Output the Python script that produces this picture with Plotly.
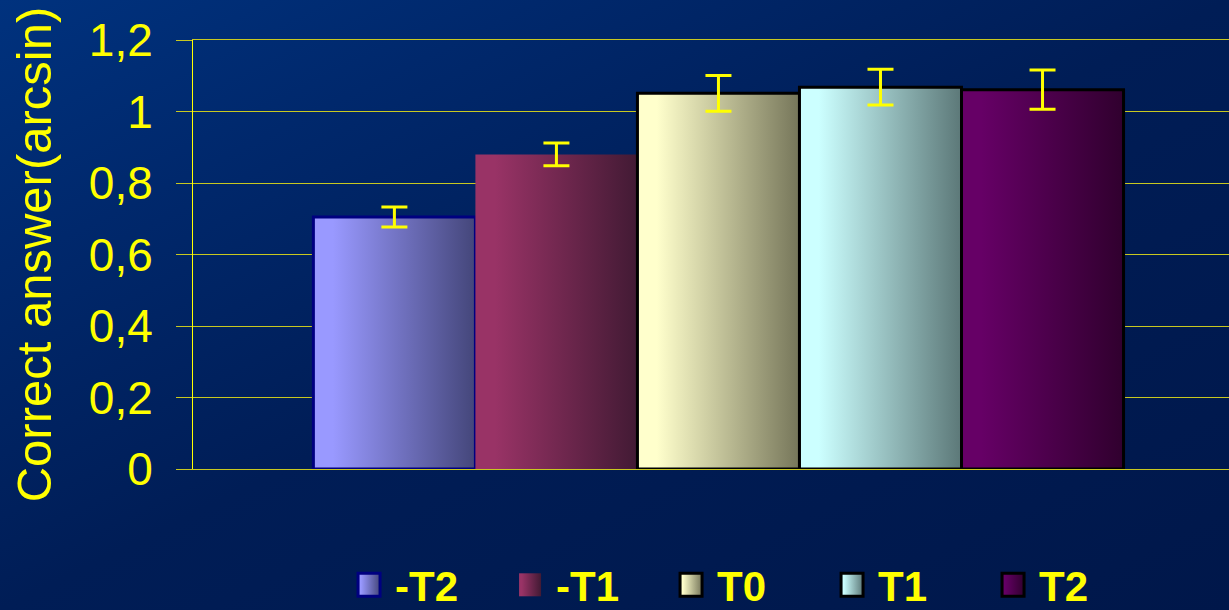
import json
import plotly.graph_objects as go

# Condition labels, means (arcsin-transformed proportion correct) and SEM
conditions = ["-T2", "-T1", "T0", "T1", "T2"]
means = [0.705, 0.880, 1.051, 1.068, 1.061]
errors = [0.028, 0.032, 0.050, 0.050, 0.055]

# Left (light) and right (dark) colours of each bar's horizontal shading
light_colors = ["#9999FF", "#993366", "#FFFFCC", "#CCFFFF", "#660066"]
dark_colors = ["#44467A", "#421A34", "#76765A", "#5C7878", "#30002E"]
outline_colors = ["#000080", "#993366", "#000000", "#000000", "#000000"]
outline_widths = [3, 0, 3, 3, 3]

fig = go.Figure()
for name, m, e, c, lc, lw in zip(conditions, means, errors, light_colors,
                                 outline_colors, outline_widths):
    fig.add_trace(go.Bar(
        name=name,
        x=[0],
        y=[m],
        marker=dict(color=c, line=dict(color=lc, width=lw)),
        error_y=dict(type="data", array=[e], visible=True,
                     color="#FFFF00", thickness=3, width=13),
    ))

yellow = "#FFFF00"
grid_yellow = "#C8C820"
fig.update_layout(
    width=1229,
    height=610,
    margin=dict(l=193, r=0, t=40, b=141),
    paper_bgcolor="#001E58",
    plot_bgcolor="rgba(0,0,0,0)",
    barmode="group",
    bargap=0.218,
    bargroupgap=0,
    font=dict(family="Liberation Sans, Arial, sans-serif", color=yellow),
    xaxis=dict(
        range=[-0.5072, 0.4928],
        showticklabels=False,
        showgrid=False,
        zeroline=False,
        ticks="",
        showline=True,
        mirror=True,
        linecolor=grid_yellow,
        linewidth=1,
        layer="below traces",
    ),
    yaxis=dict(
        range=[0, 1.2],
        tickvals=[0, 0.2, 0.4, 0.6, 0.8, 1.0, 1.2],
        ticktext=["0", "0,2", "0,4", "0,6", "0,8", "1", "1,2"],
        tickfont=dict(size=46, color=yellow),
        ticks="outside",
        ticklen=16,
        tickwidth=1,
        tickcolor=grid_yellow,
        ticklabelstandoff=14,
        showgrid=True,
        gridcolor=grid_yellow,
        gridwidth=1,
        zeroline=False,
        showline=True,
        linecolor=yellow,
        linewidth=1,
        layer="below traces",
        title=dict(text="Correct answer(arcsin)",
                   font=dict(size=49, color=yellow), standoff=21),
    ),
    legend=dict(
        orientation="h",
        xref="container",
        yref="container",
        x=0.2889,
        xanchor="left",
        y=1 - 585 / 610,
        yanchor="middle",
        entrywidthmode="pixels",
        entrywidth=116,
        font=dict(size=42, color=yellow, weight="bold"),
        bgcolor="rgba(0,0,0,0)",
        traceorder="normal",
    ),
    showlegend=True,
)

# Horizontal light-to-dark shading for bars and legend swatches
stops = [[[0, lc], [0.12, lc], [1, dc]] for lc, dc in zip(light_colors, dark_colors)]

post = """
var gd = document.getElementById('{plot_id}');
var NS = 'http://www.w3.org/2000/svg';
var stops = %s;
var svg = gd.querySelector('.main-svg');
svg.style.background = 'linear-gradient(to bottom right, #00327E 0%%, #00286C 22%%, #001D56 50%%, #00174A 100%%)';
var defs = svg.querySelector('defs');
stops.forEach(function (g, i) {
  var lg = document.createElementNS(NS, 'linearGradient');
  lg.setAttribute('id', 'barshade' + i);
  lg.setAttribute('x1', '0'); lg.setAttribute('y1', '0');
  lg.setAttribute('x2', '1'); lg.setAttribute('y2', '0');
  g.forEach(function (s) {
    var st = document.createElementNS(NS, 'stop');
    st.setAttribute('offset', s[0]);
    st.setAttribute('stop-color', s[1]);
    lg.appendChild(st);
  });
  defs.appendChild(lg);
});
gd.querySelectorAll('.barlayer .trace').forEach(function (t, i) {
  t.querySelectorAll('.point path').forEach(function (p) {
    p.style.fill = 'url(#barshade' + i + ')';
  });
});
gd.querySelectorAll('.legend .traces').forEach(function (t, i) {
  var p = t.querySelector('.legendpoints path');
  if (p) {
    p.setAttribute('d', 'M-17,-11.5H5V11.5H-17Z');
    p.style.fill = 'url(#barshade' + i + ')';
  }
});
""" % json.dumps(stops)

fig.write_html("out.html", post_script=post)
